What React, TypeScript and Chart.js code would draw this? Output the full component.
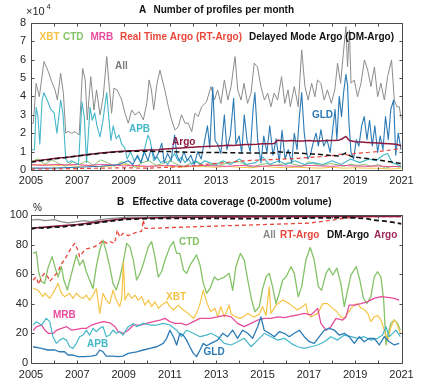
import React, { useEffect, useRef } from "react";
import { Chart, registerables } from "chart.js";
Chart.register(...registerables);

type P = [number, number];

// ---------- Panel A: number of profiles per month (x 10^4) ----------
const ALL_COUNT: P[] = [[2005.03,2.5],[2005.10,2.55],[2005.22,4.7],[2005.36,3.98],[2005.56,5.89],[2005.75,5.34],[2005.89,4.8],[2006.04,4.35],[2006.14,3.8],[2006.28,5.25],[2006.40,4.17],[2006.50,2.0],[2006.60,2.1],[2006.75,2.0],[2006.90,2.08],[2007.08,1.9],[2007.23,5.52],[2007.34,4.9],[2007.43,2.72],[2007.58,5.07],[2007.72,3.26],[2007.83,4.35],[2007.98,2.99],[2008.12,3.98],[2008.27,6.16],[2008.38,4.53],[2008.48,3.08],[2008.58,4.44],[2008.72,4.35],[2008.92,3.8],[2009.06,3.08],[2009.20,2.54],[2009.35,3.26],[2009.49,2.99],[2009.67,3.17],[2009.85,2.72],[2010.00,3.62],[2010.10,4.89],[2010.20,4.35],[2010.30,3.26],[2010.43,4.62],[2010.57,5.43],[2010.67,4.9],[2010.78,4.35],[2010.93,3.44],[2011.07,2.72],[2011.22,2.17],[2011.36,2.35],[2011.50,3.0],[2011.65,2.54],[2011.79,2.54],[2011.94,2.08],[2012.08,3.08],[2012.22,2.9],[2012.37,3.44],[2012.58,3.7],[2012.77,4.53],[2012.92,3.8],[2013.06,4.35],[2013.20,3.62],[2013.35,4.89],[2013.50,3.8],[2013.64,4.53],[2013.81,6.16],[2013.93,4.35],[2014.07,3.8],[2014.20,4.71],[2014.35,3.62],[2014.50,4.17],[2014.64,5.8],[2014.78,5.6],[2014.93,4.53],[2015.08,3.8],[2015.22,4.17],[2015.36,3.44],[2015.50,4.17],[2015.65,3.8],[2015.82,5.07],[2015.96,3.62],[2016.10,4.35],[2016.20,3.44],[2016.37,4.53],[2016.54,3.44],[2016.69,6.52],[2016.83,4.53],[2016.97,3.8],[2017.12,4.71],[2017.26,3.98],[2017.37,4.89],[2017.52,4.71],[2017.66,3.8],[2017.80,4.35],[2017.97,3.62],[2018.12,4.35],[2018.24,5.8],[2018.37,4.71],[2018.49,6.34],[2018.60,7.79],[2018.67,5.6],[2018.75,7.6],[2018.82,4.71],[2018.96,4.89],[2019.10,3.98],[2019.25,4.71],[2019.40,5.98],[2019.54,5.43],[2019.68,4.53],[2019.83,5.6],[2019.97,3.98],[2020.11,4.71],[2020.26,3.8],[2020.40,5.07],[2020.57,5.98],[2020.69,3.8],[2020.80,3.44],[2020.90,3.44],[2021.00,2.72]];

const APB_COUNT: P[] = [[2005.03,1.1],[2005.15,1.1],[2005.22,3.4],[2005.30,2.9],[2005.38,1.4],[2005.48,3.8],[2005.56,4.2],[2005.70,3.8],[2005.85,3.3],[2006.00,3.1],[2006.12,2.0],[2006.22,3.1],[2006.28,3.8],[2006.38,3.1],[2006.50,0.6],[2006.60,0.4],[2006.75,0.5],[2006.90,0.4],[2007.05,0.3],[2007.20,3.7],[2007.30,2.9],[2007.40,0.4],[2007.55,3.4],[2007.65,2.7],[2007.75,3.1],[2007.85,2.4],[2007.98,1.8],[2008.10,2.6],[2008.20,3.6],[2008.27,4.2],[2008.35,3.0],[2008.45,1.6],[2008.55,2.4],[2008.68,1.7],[2008.80,1.9],[2008.92,1.4],[2009.05,1.2],[2009.15,0.6],[2009.30,1.0],[2009.45,0.5],[2009.60,0.7],[2009.75,0.4],[2009.90,1.1],[2010.05,1.9],[2010.15,1.6],[2010.30,0.5],[2010.45,0.7],[2010.60,0.4],[2010.75,0.5],[2010.90,0.3],[2011.05,0.6],[2011.20,0.9],[2011.35,0.5],[2011.50,0.7],[2011.65,0.4],[2011.80,0.6],[2011.95,0.3],[2012.10,0.5],[2012.30,0.3],[2012.50,0.5],[2012.70,0.4],[2013.0,0.3],[2013.3,0.5],[2013.6,0.3],[2014.0,0.6],[2014.3,0.3],[2014.7,0.4],[2015.0,0.7],[2015.3,0.3],[2015.7,0.5],[2016.0,0.3],[2016.4,0.5],[2016.8,0.3],[2017.2,0.4],[2017.6,0.3],[2018.0,0.5],[2018.4,0.3],[2018.8,0.6],[2019.2,0.4],[2019.6,0.6],[2019.9,0.5],[2020.2,0.8],[2020.4,0.9],[2020.6,0.4],[2021.0,0.2]];

const GLD_COUNT: P[] = [[2005.0,0.1],[2006.0,0.1],[2007.0,0.15],[2008.0,0.2],[2008.8,0.3],[2009.2,0.5],[2009.4,0.3],[2009.6,0.8],[2009.75,0.4],[2009.9,1.0],[2010.05,0.5],[2010.2,1.2],[2010.35,0.6],[2010.5,0.9],[2010.65,1.45],[2010.75,0.4],[2010.9,0.9],[2011.05,0.5],[2011.2,1.9],[2011.3,0.8],[2011.45,0.4],[2011.6,1.0],[2011.75,0.5],[2011.9,0.8],[2012.05,0.3],[2012.2,1.0],[2012.35,0.6],[2012.5,1.6],[2012.62,2.4],[2012.72,1.2],[2012.85,4.5],[2012.95,1.6],[2013.06,1.4],[2013.20,0.9],[2013.35,3.0],[2013.46,1.1],[2013.61,1.9],[2013.75,3.9],[2013.85,1.4],[2013.99,1.85],[2014.10,0.9],[2014.21,3.0],[2014.33,1.6],[2014.47,1.0],[2014.59,3.3],[2014.67,4.2],[2014.79,1.6],[2014.93,0.4],[2015.05,1.85],[2015.19,0.95],[2015.31,2.4],[2015.45,0.8],[2015.59,1.7],[2015.72,0.4],[2015.84,2.15],[2015.97,0.6],[2016.11,1.1],[2016.26,0.4],[2016.37,2.0],[2016.49,1.1],[2016.59,2.9],[2016.69,4.2],[2016.80,2.0],[2016.95,0.6],[2017.06,0.8],[2017.18,1.45],[2017.31,2.0],[2017.41,1.3],[2017.52,2.2],[2017.64,1.3],[2017.78,1.65],[2017.92,0.95],[2018.03,2.2],[2018.13,3.3],[2018.21,1.65],[2018.31,4.0],[2018.41,2.9],[2018.50,4.2],[2018.60,5.2],[2018.67,4.6],[2018.73,2.6],[2018.82,0.95],[2018.93,0.6],[2019.05,1.65],[2019.16,1.3],[2019.28,2.4],[2019.39,2.9],[2019.51,1.65],[2019.62,2.7],[2019.74,1.3],[2019.85,2.4],[2019.97,0.95],[2020.08,1.85],[2020.20,1.1],[2020.31,2.9],[2020.43,1.65],[2020.54,3.3],[2020.66,3.8],[2020.75,0.8],[2020.86,2.0],[2020.98,1.1]];

const ARGO_COUNT: P[] = [[2005.0,0.45],[2005.25,0.5],[2005.5,0.55],[2005.75,0.58],[2006.0,0.62],[2006.25,0.66],[2006.5,0.68],[2006.75,0.72],[2007.0,0.76],[2007.25,0.8],[2007.5,0.84],[2007.75,0.88],[2008.0,0.92],[2008.25,0.95],[2008.5,0.98],[2008.75,1.0],[2009.0,1.02],[2009.25,1.04],[2009.5,1.05],[2009.75,1.07],[2010.0,1.08],[2010.25,1.09],[2010.5,1.1],[2010.75,1.14],[2011.0,1.16],[2011.25,1.18],[2011.5,1.2],[2011.75,1.22],[2012.0,1.24],[2012.25,1.26],[2012.5,1.27],[2012.75,1.29],[2013.0,1.3],[2013.25,1.32],[2013.5,1.34],[2013.75,1.33],[2014.0,1.36],[2014.25,1.38],[2014.5,1.39],[2014.75,1.4],[2015.0,1.42],[2015.25,1.43],[2015.5,1.44],[2015.65,1.62],[2015.8,1.6],[2016.0,1.58],[2016.25,1.6],[2016.5,1.57],[2016.75,1.58],[2017.0,1.6],[2017.25,1.57],[2017.5,1.58],[2017.75,1.6],[2018.0,1.6],[2018.3,1.62],[2018.45,1.7],[2018.6,1.82],[2018.75,1.6],[2019.0,1.54],[2019.25,1.52],[2019.5,1.5],[2019.75,1.48],[2020.0,1.46],[2020.25,1.44],[2020.5,1.42],[2020.75,1.4],[2021.0,1.32]];

const DM_COUNT: P[] = [[2005.0,0.42],[2005.5,0.52],[2006.0,0.6],[2006.5,0.68],[2007.0,0.76],[2007.5,0.84],[2008.0,0.9],[2008.5,0.96],[2009.0,1.0],[2009.5,1.02],[2010.0,1.02],[2010.5,1.0],[2011.0,1.0],[2011.5,0.98],[2012.0,0.96],[2012.5,0.95],[2013.0,0.95],[2013.5,0.94],[2014.0,0.93],[2014.5,0.93],[2015.0,0.92],[2015.5,0.92],[2015.65,1.0],[2016.0,0.95],[2016.5,0.92],[2017.0,0.88],[2017.5,0.84],[2018.0,0.78],[2018.3,0.76],[2018.6,0.92],[2018.8,0.75],[2019.0,0.7],[2019.5,0.62],[2020.0,0.55],[2020.5,0.45],[2021.0,0.35]];

const RT_COUNT: P[] = [[2005.0,0.05],[2006.0,0.06],[2007.0,0.08],[2008.0,0.1],[2009.0,0.12],[2010.0,0.1],[2011.0,0.15],[2012.0,0.22],[2012.5,0.3],[2013.0,0.36],[2013.5,0.42],[2014.0,0.48],[2014.5,0.52],[2015.0,0.55],[2015.5,0.57],[2016.0,0.6],[2016.5,0.63],[2017.0,0.68],[2017.5,0.72],[2018.0,0.78],[2018.5,0.88],[2018.7,0.8],[2019.0,0.9],[2019.5,0.95],[2020.0,1.0],[2020.5,1.08],[2021.0,1.18]];

const XBT_COUNT: P[] = [[2005,0.25],[2005.5,0.3],[2006,0.22],[2006.5,0.28],[2007,0.2],[2007.5,0.25],[2008,0.18],[2008.5,0.22],[2009,0.3],[2009.5,0.2],[2010,0.18],[2010.5,0.25],[2011,0.2],[2011.5,0.15],[2012,0.2],[2012.5,0.18],[2013,0.15],[2013.5,0.2],[2014,0.15],[2014.5,0.12],[2015,0.2],[2015.5,0.15],[2016,0.12],[2016.5,0.15],[2017,0.12],[2017.5,0.1],[2018,0.15],[2018.5,0.1],[2019,0.12],[2019.5,0.1],[2020,0.1],[2020.5,0.05],[2021,0.1]];

const CTD_COUNT: P[] = [[2005,0.45],[2005.3,0.6],[2005.6,0.3],[2005.9,0.55],[2006.2,0.35],[2006.5,0.2],[2006.8,0.45],[2007.1,0.3],[2007.4,0.5],[2007.7,0.25],[2008,0.55],[2008.3,0.4],[2008.6,0.2],[2008.9,0.45],[2009.2,0.3],[2009.5,0.15],[2009.8,0.4],[2010.1,0.5],[2010.4,0.25],[2010.7,0.35],[2011,0.5],[2011.3,0.3],[2011.6,0.2],[2011.9,0.35],[2012.2,0.45],[2012.5,0.2],[2012.8,0.3],[2013.1,0.25],[2013.4,0.35],[2013.7,0.4],[2014,0.45],[2014.3,0.25],[2014.6,0.15],[2014.9,0.3],[2015.2,0.35],[2015.5,0.25],[2015.8,0.3],[2016.1,0.4],[2016.4,0.3],[2016.7,0.2],[2017,0.45],[2017.3,0.3],[2017.6,0.25],[2017.9,0.35],[2018.2,0.3],[2018.5,0.2],[2018.8,0.3],[2019.1,0.25],[2019.4,0.3],[2019.7,0.2],[2020,0.3],[2020.3,0.1],[2020.6,0.2],[2021,0.15]];

const MRB_COUNT: P[] = [[2005,0.3],[2005.5,0.25],[2006,0.3],[2006.5,0.28],[2007,0.3],[2007.5,0.25],[2008,0.3],[2008.5,0.28],[2009,0.22],[2009.5,0.25],[2010,0.2],[2010.5,0.22],[2011,0.25],[2011.5,0.2],[2012,0.22],[2012.5,0.25],[2013,0.22],[2013.5,0.2],[2014,0.25],[2014.5,0.22],[2015,0.2],[2015.5,0.25],[2016,0.22],[2016.5,0.2],[2017,0.25],[2017.5,0.22],[2018,0.2],[2018.5,0.25],[2019,0.22],[2019.5,0.2],[2020,0.22],[2020.5,0.18],[2021,0.2]];

// ---------- Panel B: effective data coverage (%) ----------
const ALL_COVER: P[] = [[2005,96.5],[2005.3,97],[2005.6,96.2],[2006,96.8],[2006.3,95.5],[2006.6,94.6],[2007,95.5],[2007.3,96.2],[2007.6,95.5],[2008,96.8],[2008.4,97.5],[2008.8,98],[2009.2,98.5],[2010,98.6],[2011,98.8],[2012,98.7],[2013,99],[2014,99],[2015,99.2],[2016,99.2],[2017,99.3],[2018,99.3],[2019,99.4],[2020,99.4],[2021,99.4]];

const DM_COVER: P[] = [[2005,90.5],[2005.3,91.5],[2005.6,91],[2006,92],[2006.3,91.8],[2006.6,92.5],[2007,93],[2007.3,93.5],[2007.6,94],[2008,95],[2008.4,95.8],[2008.8,96.5],[2009,97],[2010,97.5],[2011,97.8],[2012,97.6],[2013,97.8],[2014,97.5],[2015,97.7],[2016,97.8],[2017,98],[2018,98],[2018.5,98.3],[2019,98],[2019.5,97.6],[2019.8,96.5],[2020.2,96],[2020.6,95.2],[2021,94]];

const ARGO_COVER: P[] = [[2005,91],[2006,92.3],[2007,93.6],[2008,95.5],[2009,97.5],[2010,98],[2011,98.3],[2012,98.5],[2013,98.6],[2014,98.7],[2015,98.8],[2016,98.8],[2017,98.9],[2018,99],[2019,99],[2020,99.1],[2021,99.1]];

const RT_COVER: P[] = [[2005.09,56],[2005.23,58],[2005.33,53],[2005.45,58],[2005.59,60.5],[2005.73,58],[2005.81,55],[2006.02,59],[2006.17,61.6],[2006.31,67],[2006.45,69.5],[2006.60,74],[2006.75,78],[2006.89,80.8],[2007.03,76],[2007.10,71.8],[2007.25,75],[2007.39,77],[2007.53,77.5],[2007.75,78.6],[2007.97,80.8],[2008.11,83],[2008.25,80.8],[2008.40,82],[2008.61,80.8],[2008.73,89.8],[2008.83,85],[2008.97,87.6],[2009.2,86],[2009.5,88],[2009.78,89],[2009.85,96.6],[2009.92,91],[2010.2,91],[2011,91.5],[2012,92],[2013,92.5],[2014,93],[2015,93.5],[2016,94],[2017,94.5],[2017.5,95.5],[2018,96.5],[2018.5,97.7],[2019,98.6],[2020,99],[2021,99]];

const CTD_COVER: P[] = [[2005.09,74],[2005.23,75],[2005.33,61.6],[2005.45,55],[2005.59,53.7],[2005.73,63.9],[2005.91,71.8],[2006.05,63.9],[2006.17,58],[2006.31,65],[2006.42,56],[2006.57,49.2],[2006.71,58],[2006.86,67],[2006.96,73],[2007.10,66],[2007.25,69.5],[2007.39,61.6],[2007.53,56],[2007.68,50.3],[2007.82,65],[2007.97,76.3],[2008.11,83],[2008.25,75],[2008.40,65],[2008.54,53.7],[2008.68,49.2],[2008.83,57],[2008.97,67],[2009.13,80.8],[2009.27,78.6],[2009.42,69.5],[2009.56,56],[2009.71,60.5],[2009.85,67],[2010.07,78.6],[2010.21,82],[2010.35,71.8],[2010.50,58],[2010.64,61.6],[2010.79,69.5],[2011.00,78.6],[2011.15,82],[2011.29,74],[2011.43,74],[2011.58,62.8],[2011.72,60.5],[2011.87,66],[2012.01,69.5],[2012.15,73],[2012.30,66],[2012.44,53.7],[2012.59,47],[2012.73,50.3],[2012.92,58],[2013.06,56],[2013.35,58],[2013.56,60.5],[2013.71,49],[2013.85,65],[2014.04,74],[2014.21,69.5],[2014.36,56],[2014.53,42.4],[2014.67,34.5],[2014.86,38],[2015.00,50],[2015.15,58],[2015.29,60.5],[2015.43,51.5],[2015.58,40],[2015.72,47],[2015.87,56],[2016.01,58],[2016.23,65],[2016.37,60.5],[2016.54,44.7],[2016.69,51.5],[2016.87,69.5],[2017.06,78],[2017.23,69.5],[2017.41,51.5],[2017.55,49],[2017.74,60.5],[2017.88,64],[2018.03,59.4],[2018.21,64],[2018.38,53.7],[2018.53,38],[2018.67,49],[2018.82,59.4],[2019.05,65],[2019.20,56],[2019.35,44],[2019.50,40],[2019.68,44.7],[2019.82,58],[2019.97,61.6],[2020.11,58],[2020.23,42.4],[2020.33,12],[2020.43,20],[2020.54,26.6],[2020.69,29],[2020.83,26.6],[2020.95,22]];

const XBT_COVER: P[] = [[2005.09,50.3],[2005.30,49.2],[2005.52,44.7],[2005.59,47],[2005.81,43.6],[2005.95,47],[2006.17,53.7],[2006.31,47],[2006.45,44.7],[2006.67,47],[2006.81,43.6],[2006.96,47],[2007.10,44.7],[2007.25,43.6],[2007.39,45.8],[2007.53,42.4],[2007.68,45.8],[2007.82,50.3],[2007.97,33.4],[2008.11,47],[2008.25,42.4],[2008.40,40],[2008.54,49.2],[2008.68,42.4],[2008.83,38],[2008.92,43.6],[2008.99,68],[2009.06,42.4],[2009.20,47],[2009.35,43.6],[2009.49,45.8],[2009.63,42.4],[2009.78,44.7],[2009.92,39],[2010.07,42.4],[2010.21,38],[2010.35,41.3],[2010.50,36.8],[2010.64,39],[2010.86,41.3],[2011.00,38],[2011.15,35.7],[2011.36,39],[2011.58,35.7],[2011.79,33.4],[2012.01,30],[2012.15,33.4],[2012.30,40],[2012.44,49.2],[2012.61,40],[2012.76,34.5],[2012.95,36.8],[2013.06,31],[2013.20,38],[2013.35,31],[2013.56,39],[2013.64,33],[2013.85,31],[2014.04,30],[2014.21,31.5],[2014.36,33.4],[2014.50,32],[2014.64,31],[2014.86,33],[2015.00,38],[2015.15,32],[2015.29,51.5],[2015.36,33.4],[2015.58,39],[2015.87,42.4],[2016.15,40],[2016.51,35.7],[2016.73,38],[2016.87,40],[2016.95,33.4],[2017.09,31],[2017.38,33.4],[2017.60,40],[2017.81,40],[2018.03,36.8],[2018.21,34.5],[2018.38,31],[2018.53,30],[2018.67,33.4],[2018.82,36.8],[2018.96,39],[2019.10,40],[2019.25,37],[2019.39,36],[2019.54,33.4],[2019.68,27.8],[2019.82,31],[2019.97,32],[2020.11,29],[2020.26,22],[2020.40,15],[2020.54,24],[2020.69,29],[2020.80,26.6],[2020.95,20]];

const MRB_COVER: P[] = [[2005.10,22],[2005.24,24.4],[2005.46,25.5],[2005.60,22],[2005.75,19.9],[2005.96,19.9],[2006.11,22],[2006.32,23.3],[2006.54,24.4],[2006.76,22],[2006.97,22.6],[2007.19,23.3],[2007.40,23.3],[2007.62,25.5],[2007.84,26.6],[2008.12,27.8],[2008.41,27],[2008.63,24.4],[2008.77,21],[2008.99,19.9],[2009.20,22],[2009.42,25.5],[2009.71,25.5],[2009.99,26.6],[2010.28,27.8],[2010.57,28.9],[2010.79,30],[2011.00,27.8],[2011.22,26.6],[2011.50,26.6],[2011.72,25.5],[2012.01,27.8],[2012.30,30],[2012.73,30],[2013.06,31],[2013.35,32],[2013.64,31],[2013.92,26.6],[2014.21,24.4],[2014.50,26.6],[2014.79,28.9],[2015.07,30],[2015.36,30],[2015.65,31],[2015.94,30.5],[2016.23,31.6],[2016.51,32.3],[2016.80,33.4],[2017.09,32.3],[2017.38,36.8],[2017.52,26.6],[2017.74,22],[2017.95,24.4],[2018.17,30],[2018.46,28.9],[2018.60,31],[2018.74,39],[2018.96,39],[2019.25,40],[2019.54,41.3],[2019.82,43.6],[2020.11,44.7],[2020.40,44.2],[2020.69,43.6],[2020.90,42.4]];

const APB_COVER: P[] = [[2005.09,25.5],[2005.23,27.8],[2005.45,25.5],[2005.66,30],[2005.81,27.8],[2005.95,17.6],[2006.09,13.1],[2006.24,15.3],[2006.38,16.5],[2006.53,15.3],[2006.67,10.8],[2006.81,9.7],[2006.96,13.1],[2007.10,17.6],[2007.25,18.7],[2007.39,22],[2007.53,18.7],[2007.68,23.3],[2007.82,21],[2007.97,23.3],[2008.11,24.4],[2008.25,17.6],[2008.40,18.7],[2008.54,22],[2008.68,19.9],[2008.83,21],[2008.97,18.7],[2009.20,24.4],[2009.42,26.6],[2009.56,24.4],[2009.85,26.6],[2010.14,25.5],[2010.43,25.5],[2010.71,26.6],[2011.00,25.5],[2011.29,22],[2011.50,17.6],[2011.72,22],[2012.01,19.9],[2012.30,17.6],[2012.58,18.7],[2012.77,19.9],[2013.06,17.6],[2013.35,13.1],[2013.64,12],[2013.92,14.2],[2014.21,16.5],[2014.50,10.8],[2014.79,15.3],[2015.07,19.9],[2015.36,17.6],[2015.65,15.3],[2015.94,16.5],[2016.23,13.1],[2016.51,10.8],[2016.80,9.7],[2017.09,10.8],[2017.38,12],[2017.67,14.2],[2017.95,17.6],[2018.24,15.3],[2018.53,18.7],[2018.82,17.6],[2019.10,16.5],[2019.39,17.6],[2019.68,15.3],[2019.97,16.5],[2020.18,18.7],[2020.33,24.4],[2020.47,17.6],[2020.62,19.9],[2020.76,22],[2020.95,17.6]];

const GLD_COVER: P[] = [[2005.09,10.8],[2005.45,9.7],[2005.73,8.6],[2006.02,8.6],[2006.24,7.4],[2006.45,7.4],[2006.60,5.2],[2006.81,5.2],[2007.03,4.1],[2007.32,4.1],[2007.60,4.5],[2007.82,5.2],[2007.97,8.6],[2008.11,7.4],[2008.25,4.5],[2008.54,4.5],[2008.76,4.1],[2008.97,4.5],[2009.20,6.3],[2009.56,7.4],[2009.85,8.6],[2010.14,9.7],[2010.43,10.8],[2010.71,13.1],[2010.86,16.5],[2011.00,22],[2011.15,17.6],[2011.29,12],[2011.43,19.9],[2011.58,18.5],[2011.72,15.3],[2011.86,10.8],[2012.01,6.3],[2012.15,4.1],[2012.30,8.6],[2012.44,13.1],[2012.58,11.5],[2012.77,13.1],[2013.06,15.3],[2013.28,19.9],[2013.49,17.6],[2013.71,22],[2013.92,16.5],[2014.14,22],[2014.36,19.9],[2014.57,16.5],[2014.79,24.4],[2014.93,31],[2015.07,22],[2015.29,19.9],[2015.51,17.6],[2015.72,21],[2015.94,19.9],[2016.15,17.6],[2016.37,19.9],[2016.59,22],[2016.80,17.6],[2017.02,14.2],[2017.23,13.1],[2017.45,17.6],[2017.67,22],[2017.88,23.3],[2018.10,22],[2018.31,18.7],[2018.53,19.9],[2018.74,17.6],[2018.96,13.1],[2019.18,17.6],[2019.39,14.2],[2019.61,16.5],[2019.82,16.5],[2020.04,12],[2020.26,17.6],[2020.47,14.2],[2020.69,12],[2020.90,13.1]];

const YEAR_RANGE = [2005, 2021];
const COUNT_TICKS = [0, 8, 1];
const COVER_TICKS = [0, 100, 10];

// ---------- styles ----------
const FONT = "'Liberation Sans', Arial, Helvetica, sans-serif";
const C = {
  all: "#8c8c8c",
  xbt: "#f5c447",
  ctd: "#84c268",
  mrb: "#e74c9c",
  rt: "#e8463a",
  dm: "#111111",
  argo: "#8b1a3f",
  apb: "#45b7c9",
  gld: "#2c7ab5",
  axis: "#4a4a4a",
  text: "#262626",
};

const pts = (a: P[]) => a.map(([x, y]) => ({ x, y }));

function ds(label: string, data: P[], color: string, width: number, dash?: number[]) {
  return {
    label,
    data: pts(data),
    borderColor: color,
    backgroundColor: color,
    borderWidth: width,
    borderDash: dash || [],
    pointRadius: 0,
    tension: 0,
    fill: false,
    borderJoinStyle: "round" as const,
  };
}

type TextItem = {
  text: string;
  color: string;
  font: string;
  px?: number; py?: number; // canvas pixel position
  dx?: number; dy?: number; // data position
};

const crisp = (v: number) => Math.round(v) + 0.5;

const decor = {
  id: "decor",
  afterDatasetsDraw(chart: any, _a: any, opts: any) {
    const { ctx, chartArea: a, scales } = chart;
    const xs = scales.x, ys = scales.y;
    const L = crisp(a.left), R = crisp(a.right), T = crisp(a.top), Bt = crisp(a.bottom);
    ctx.save();
    ctx.strokeStyle = C.axis;
    ctx.lineWidth = 1;
    ctx.beginPath();
    ctx.rect(L, T, R - L, Bt - T);
    for (let yr = YEAR_RANGE[0]; yr <= YEAR_RANGE[1]; yr++) {
      const px = crisp(xs.getPixelForValue(yr));
      ctx.moveTo(px, Bt); ctx.lineTo(px, Bt - 3);
      ctx.moveTo(px, T); ctx.lineTo(px, T + 3);
    }
    for (const t of ys.ticks) {
      const py = crisp(ys.getPixelForValue(t.value));
      ctx.moveTo(L, py); ctx.lineTo(L + 3, py);
      ctx.moveTo(R, py); ctx.lineTo(R - 3, py);
    }
    ctx.stroke();
    ctx.textAlign = "left";
    ctx.textBaseline = "middle";
    for (const it of (opts.texts || []) as TextItem[]) {
      ctx.font = it.font;
      ctx.fillStyle = it.color;
      const x = it.dx !== undefined ? xs.getPixelForValue(it.dx) : it.px!;
      const y = it.dy !== undefined ? ys.getPixelForValue(it.dy) : it.py!;
      ctx.fillText(it.text, x, y);
    }
    ctx.restore();
  },
};

const B10 = `bold 10px ${FONT}`;

function makeConfig(datasets: any[], ticks: number[], padTop: number, axisH: number, xPad: number, yPad: number, texts: TextItem[]) {
  return {
    type: "line" as const,
    data: { datasets },
    plugins: [decor],
    options: {
      animation: false as const,
      responsive: false,
      maintainAspectRatio: false,
      parsing: false as const,
      layout: { padding: { top: padTop, right: 21.5, left: 0, bottom: 0 } },
      plugins: {
        legend: { display: false },
        tooltip: { enabled: false },
        title: { display: false },
        decor: { texts },
      },
      scales: {
        x: {
          type: "linear" as const,
          min: YEAR_RANGE[0],
          max: YEAR_RANGE[1],
          grid: { display: false, drawTicks: false },
          border: { display: false },
          afterFit: (s: any) => { s.height = axisH; },
          ticks: {
            stepSize: 2,
            autoSkip: false,
            maxRotation: 0,
            padding: xPad,
            color: C.text,
            font: { family: FONT, size: 11 },
            callback: (v: any) => String(v),
          },
        },
        y: {
          type: "linear" as const,
          min: ticks[0],
          max: ticks[1],
          grid: { display: false, drawTicks: false },
          border: { display: false },
          afterFit: (s: any) => { s.width = 31; },
          ticks: {
            stepSize: ticks[2],
            padding: yPad,
            color: C.text,
            font: { family: FONT, size: 11 },
            callback: (v: any) => String(v),
          },
        },
      },
    },
  };
}

const topTexts: TextItem[] = [
  { text: "\u00d710", px: 26, py: 11.5, color: C.text, font: `11px ${FONT}` },
  { text: "4", px: 46.5, py: 6.5, color: C.text, font: `7.5px ${FONT}` },
  { text: "A", px: 139, py: 10.5, color: "#111", font: B10 },
  { text: "Number of profiles per month", px: 153.5, py: 10.5, color: "#111", font: B10 },
  { text: "XBT", px: 39.5, py: 37, color: C.xbt, font: B10 },
  { text: "CTD", px: 63, py: 37, color: C.ctd, font: B10 },
  { text: "MRB", px: 90.5, py: 37, color: C.mrb, font: B10 },
  { text: "Real Time Argo (RT-Argo)", px: 120, py: 37, color: C.rt, font: B10 },
  { text: "Delayed Mode Argo (DM-Argo)", px: 249, py: 37, color: C.dm, font: B10 },
  { text: "All", dx: 2008.63, dy: 5.65, color: "#7a7a7a", font: B10 },
  { text: "APB", dx: 2009.23, dy: 2.23, color: C.apb, font: B10 },
  { text: "Argo", dx: 2011.09, dy: 1.52, color: C.argo, font: B10 },
  { text: "GLD", dx: 2017.13, dy: 2.99, color: C.gld, font: B10 },
];

const bottomTexts: TextItem[] = [
  { text: "%", px: 33, py: 18.5, color: C.text, font: `10px ${FONT}` },
  { text: "B", px: 117, py: 12.3, color: "#111", font: B10 },
  { text: "Effective data coverage (0-2000m volume)", px: 132.5, py: 12.3, color: "#111", font: B10 },
  { text: "All", px: 263, py: 45, color: "#888", font: B10 },
  { text: "RT-Argo", px: 280, py: 45, color: C.rt, font: B10 },
  { text: "DM-Argo", px: 327, py: 45, color: C.dm, font: B10 },
  { text: "Argo", px: 374, py: 45, color: "#9a2858", font: B10 },
  { text: "CTD", dx: 2011.39, dy: 81.7, color: C.ctd, font: B10 },
  { text: "XBT", dx: 2010.83, dy: 44.5, color: C.xbt, font: B10 },
  { text: "MRB", dx: 2005.95, dy: 32.3, color: C.mrb, font: B10 },
  { text: "APB", dx: 2007.42, dy: 12.7, color: C.apb, font: B10 },
  { text: "GLD", dx: 2012.45, dy: 7.2, color: C.gld, font: B10 },
];

export default function App() {
  const topRef = useRef<HTMLCanvasElement>(null);
  const botRef = useRef<HTMLCanvasElement>(null);

  useEffect(() => {
    const top = new Chart(
      topRef.current!,
      makeConfig(
        [
          ds("DM-Argo", DM_COUNT, C.dm, 1.5, [5, 3]),
          ds("Argo", ARGO_COUNT, C.argo, 1.5),
          ds("RT-Argo", RT_COUNT, C.rt, 1.2, [4, 3]),
          ds("GLD", GLD_COUNT, C.gld, 1.1),
          ds("APB", APB_COUNT, C.apb, 1.1),
          ds("MRB", MRB_COUNT, C.mrb, 1),
          ds("CTD", CTD_COUNT, C.ctd, 1),
          ds("XBT", XBT_COUNT, C.xbt, 1),
          ds("All", ALL_COUNT, C.all, 1),
        ],
        COUNT_TICKS, 22.7, 20, 4, 5, topTexts
      ) as any
    );
    const bot = new Chart(
      botRef.current!,
      makeConfig(
        [
          ds("DM-Argo", DM_COVER, C.dm, 1.8, [5, 3]),
          ds("Argo", ARGO_COVER, C.argo, 1.6),
          ds("RT-Argo", RT_COVER, C.rt, 1.3, [4, 3]),
          ds("All", ALL_COVER, C.all, 1.3),
          ds("GLD", GLD_COVER, C.gld, 1.3),
          ds("APB", APB_COVER, C.apb, 1.2),
          ds("MRB", MRB_COVER, C.mrb, 1.3),
          ds("XBT", XBT_COVER, C.xbt, 1.2),
          ds("CTD", CTD_COVER, C.ctd, 1.3),
        ],
        COVER_TICKS, 25, 21.3, 5.5, 3, bottomTexts
      ) as any
    );
    return () => { top.destroy(); bot.destroy(); };
  }, []);

  return (
    <div style={{ position: "fixed", left: 0, top: 0, width: 423, height: 384, background: "#fff" }}>
      <canvas ref={topRef} width={423} height={190} style={{ position: "absolute", left: 0, top: 0, display: "block" }} />
      <canvas ref={botRef} width={423} height={194} style={{ position: "absolute", left: 0, top: 190, display: "block" }} />
    </div>
  );
}
